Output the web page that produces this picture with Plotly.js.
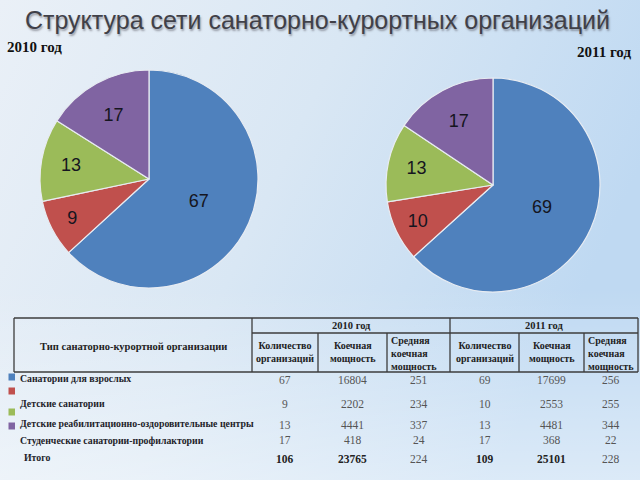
<!DOCTYPE html>
<html>
<head>
<meta charset="utf-8">
<script src="https://cdn.plot.ly/plotly-3.0.1.min.js"></script>
<style>html,body{margin:0;padding:0;}#chart{width:640px;height:480px;}</style>
</head>
<body>
<div id="chart"></div>
<script>
// ---- data ----
const categories = ['Санатории для взрослых', 'Детские санатории', 'Детские реабилитационно-оздоровительные центры', 'Студенческие санатории-профилактории'];
const orgs2010 = [67, 9, 13, 17];
const beds2010 = [16804, 2202, 4441, 418];
const avg2010 = [251, 234, 337, 24];
const orgs2011 = [69, 10, 13, 17];
const beds2011 = [17699, 2553, 4481, 368];
const avg2011 = [256, 255, 344, 22];
const totals2010 = [106, 23765, 224];
const totals2011 = [109, 25101, 228];
const totalLabel = 'Итого';
const yearLabels = ['2010 год', '2011 год'];
const subHeaders = ['Количество<br>организаций', 'Коечная<br>мощность', 'Средняя<br>коечная<br>мощность'];
const firstHeader = 'Тип санаторно-курортной организации';
const chartTitle = 'Структура сети санаторно-курортных организаций';
const sliceColors = ['#4F81BD', '#C0504D', '#9BBB59', '#8064A2'];

// ---- helpers ----
const W = 640, H = 480;
const px = x => x / W;
const py = y => 1 - y / H;

function pieTrace(values, x0, x1, y0, y1) {
  return {
    type: 'pie', values: values, labels: categories, sort: false,
    direction: 'clockwise', rotation: 0,
    marker: {colors: sliceColors, line: {color: '#e8ecf2', width: 1.2}},
    textinfo: 'value', textposition: 'inside', insidetextorientation: 'horizontal',
    textfont: {family: 'Arial, Liberation Sans, sans-serif', size: 18, color: '#151520'},
    domain: {x: [px(x0), px(x1)], y: [py(y1), py(y0)]},
    showlegend: false, hoverinfo: 'label+value'
  };
}

const traces = [
  pieTrace(orgs2010, 40, 258, 70, 288),
  pieTrace(orgs2011, 386, 600, 78, 292)
];

const annotations = [];
const shapes = [];
const serif = 'Liberation Serif, Times New Roman, serif';

function txt(text, x, y, opts) {
  annotations.push(Object.assign({
    text: text, x: px(x), y: py(y), xref: 'paper', yref: 'paper',
    showarrow: false, xanchor: 'center', yanchor: 'middle',
    font: {family: serif, size: 11, color: '#3a3a3a'}
  }, opts || {}));
}

// year captions above pies
txt('<b>' + yearLabels[0] + '</b>', 5, 47, {xanchor: 'left', font: {family: serif, size: 15, color: '#111'}});
txt('<b>' + yearLabels[1] + '</b>', 633, 52, {xanchor: 'right', font: {family: serif, size: 15, color: '#111'}});

// table header lines
const tl = 14, tr = 638, tt = 318, tm = 333, tb = 372;
const colB = [252, 318, 387, 450, 519, 584, 638];
function line(x0, y0, x1, y1) {
  shapes.push({type: 'line', xref: 'paper', yref: 'paper', x0: px(x0), y0: py(y0), x1: px(x1), y1: py(y1),
    line: {color: '#3c3c3c', width: 1.3}});
}
line(tl, tt, tr, tt); line(tl, tb, tr, tb); line(tl, tt, tl, tb); line(tr, tt, tr, tb);
line(colB[0], tt, colB[0], tb); line(colB[3], tt, colB[3], tb);
line(colB[0], tm, tr, tm);
[1, 2, 4, 5].forEach(i => line(colB[i], tm, colB[i], tb));

// header text
const hdrFont = {family: serif, size: 10.5, color: '#222'};
txt('<b>' + firstHeader + '</b>', 133, 346, {font: hdrFont});
txt('<b>' + yearLabels[0] + '</b>', (colB[0] + colB[3]) / 2, 325, {font: {family: serif, size: 10.5, color: '#222'}});
txt('<b>' + yearLabels[1] + '</b>', (colB[3] + colB[6]) / 2, 325, {font: {family: serif, size: 10.5, color: '#222'}});
const subFont = {family: serif, size: 10, color: '#222'};
[0, 3].forEach(g => {
  for (let k = 0; k < 3; k++) {
    const c0 = colB[g + k], c1 = colB[g + k + 1];
    if (k === 2) {
      txt('<b>' + subHeaders[k] + '</b>', c0 + 2, 353, {xanchor: 'left', align: 'left', font: subFont});
    } else {
      txt('<b>' + subHeaders[k] + '</b>', (c0 + c1) / 2, 352, {font: subFont});
    }
  }
});

// body rows
const rowY = [380, 404, 425, 440];
const labelY = [378, 403, 423, 440];
const markerY = [377, 391, 412, 426];
const centers = [];
for (let i = 0; i < 6; i++) centers.push((colB[i] + colB[i + 1]) / 2);
const cols = [orgs2010, beds2010, avg2010, orgs2011, beds2011, avg2011];
const labFont = {family: serif, size: 9.8, color: '#1e1e2a'};
categories.forEach((c, r) => {
  txt('<b>' + c + '</b>', 18, labelY[r], {xanchor: 'left', font: labFont});
  cols.forEach((col, j) => txt(String(col[r]), centers[j], rowY[r], {font: {family: serif, size: 11.5, color: '#555'}}));
  shapes.push({type: 'rect', xref: 'paper', yref: 'paper',
    x0: px(8.5), x1: px(15), y0: py(markerY[r] + 3.5), y1: py(markerY[r] - 3.5),
    fillcolor: sliceColors[r], line: {width: 0}});
});
txt('<b>' + totalLabel + '</b>', 22, 457, {xanchor: 'left', font: labFont});
const totals = totals2010.concat(totals2011);
totals.forEach((v, j) => {
  const bold = (j % 3) !== 2;
  txt(bold ? '<b>' + v + '</b>' : String(v), centers[j], 459,
    {font: {family: serif, size: 11.5, color: bold ? '#222' : '#555'}});
});

// background gradient image
const bgSvg = '<svg xmlns="http://www.w3.org/2000/svg" width="640" height="480">' +
  '<defs><linearGradient id="g" x1="0" y1="0" x2="1" y2="0.35">' +
  '<stop offset="0" stop-color="#eaf0f7"/><stop offset="0.5" stop-color="#d9e7f4"/>' +
  '<stop offset="1" stop-color="#bfd9f2"/></linearGradient>' +
  '<linearGradient id="v" x1="0" y1="0" x2="0" y2="1">' +
  '<stop offset="0.6" stop-color="#ffffff" stop-opacity="0"/><stop offset="1" stop-color="#ffffff" stop-opacity="0.45"/></linearGradient></defs>' +
  '<rect width="640" height="480" fill="url(#g)"/><rect width="640" height="480" fill="url(#v)"/></svg>';

const layout = {
  width: W, height: H,
  margin: {l: 0, r: 0, t: 0, b: 0},
  paper_bgcolor: '#dbe7f3',
  title: {text: chartTitle, x: 0.496, xanchor: 'center', y: py(20), yanchor: 'middle',
    font: {family: 'Arial, Liberation Sans, sans-serif', size: 25, color: '#404048',
      shadow: '1px 2px 2px rgba(90,90,100,0.55)'}},
  annotations: annotations,
  shapes: shapes,
  images: [{source: 'data:image/svg+xml;charset=utf-8,' + encodeURIComponent(bgSvg),
    xref: 'paper', yref: 'paper', x: 0, y: 1, sizex: 1, sizey: 1, sizing: 'stretch', layer: 'below'}]
};

Plotly.newPlot('chart', traces, layout, {displayModeBar: false, staticPlot: true});
</script>
</body>
</html>
